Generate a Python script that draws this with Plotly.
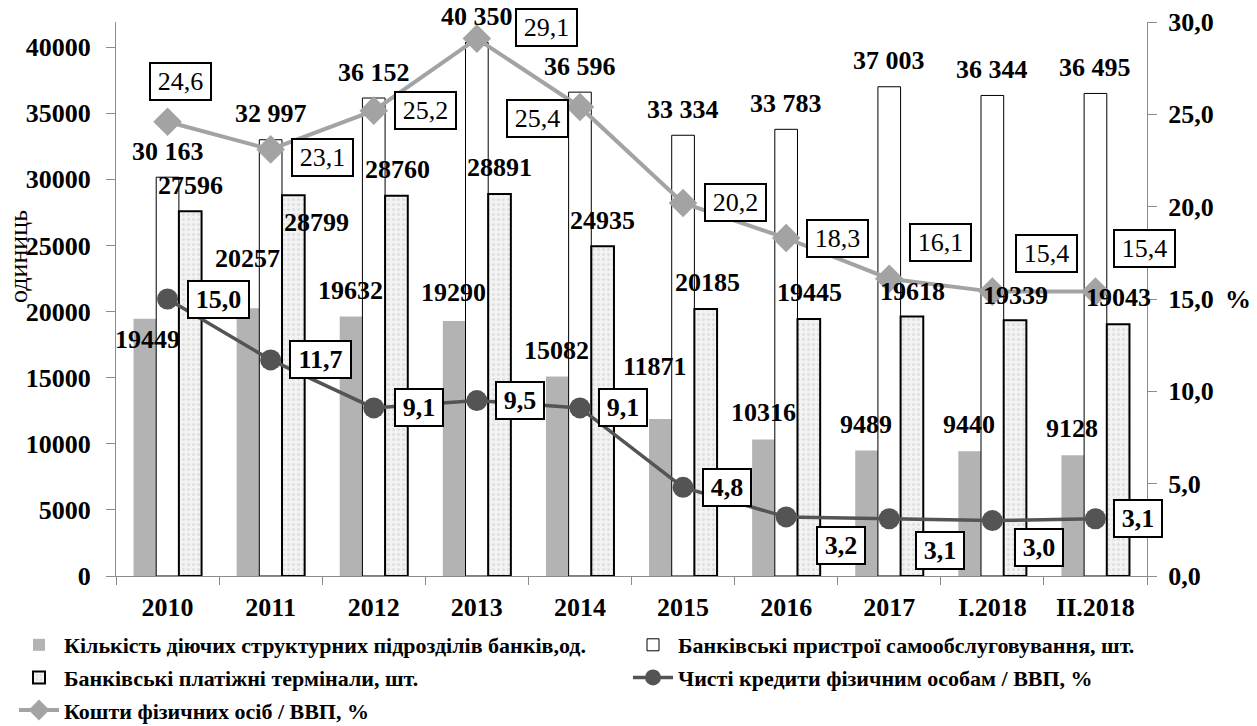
import plotly.graph_objects as go

# ---------------- data ----------------
categories = ["2010", "2011", "2012", "2013", "2014", "2015", "2016", "2017", "I.2018", "II.2018"]
branches = [19449, 20257, 19632, 19290, 15082, 11871, 10316, 9489, 9440, 9128]          # grey bars
self_service = [30163, 32997, 36152, 40350, 36596, 33334, 33783, 37003, 36344, 36495]   # white bars
terminals = [27596, 28799, 28760, 28891, 24935, 20185, 19445, 19618, 19339, 19043]      # dotted bars
loans_gdp = [15.0, 11.7, 9.1, 9.5, 9.1, 4.8, 3.2, 3.1, 3.0, 3.1]                        # dark line
deposits_gdp = [24.6, 23.1, 25.2, 29.1, 25.4, 20.2, 18.3, 16.1, 15.4, 15.4]             # light line

names = [
    "Кількість діючих структурних підрозділів банків,од.",
    "Банківські пристрої самообслуговування, шт.",
    "Банківські платіжні термінали, шт.",
    "Чисті кредити фізичним особам / ВВП, %",
    "Кошти фізичних осіб / ВВП, %",
]

# ---------------- label placement (pixels, style only) ----------------
BAR_DX = 23  # horizontal distance between neighbouring bars in a group
grey_dy = [-21, 50, 26, 28, 26, 53, 27, 26, 27, 27]
grey_dx = [3, 0, 0, 0, 0, -5, 0, 0, 0, 0]
white_dy = [26] * 10
dotted_dy = [26, -27, 26, 27, 26, 27, 26, 25, 25, 27]
dotted_dx = [0, 23, 1, 0, 0, 1, 0, 0, 0, 0]
light_dx = [13, 52, 52, 70, -42, 52, 51, 51, 54, 49]
light_dy = [40, -8, 0, 11, -12, 0, 0, 36, 38, 43]
dark_dx = [51, 50, 45, 43, 43, 44, 55, 51, 47, 43]
dark_dy = [0, 0, 0, 0, 0, 0, -29, -32, -27, 0]

FONT = "Liberation Serif"
LBL = 26

W, H = 1257, 726
ML, MR, MT, MB = 116, 110, 22, 150
PW, PH = W - ML - MR, H - MT - MB


def num(v):
    return f"{v:,}".replace(",", " ")


def dec(v):
    return f"{v:.1f}".replace(".", ",")


fig = go.Figure()
fig.add_trace(go.Bar(x=categories, y=branches, name=names[0], legend="legend", legendgroup="a",
                     marker=dict(color="#b3b3b3", line=dict(width=0))))
fig.add_trace(go.Bar(x=categories, y=self_service, name=names[1], legend="legend2", legendgroup="b",
                     marker=dict(color="white", line=dict(color="black", width=1))))
fig.add_trace(go.Bar(x=categories, y=terminals, name=names[2], legend="legend", legendgroup="c",
                     marker=dict(color="#efefef", line=dict(color="black", width=2),
                                 pattern=dict(shape=".", fgcolor="#cccccc", bgcolor="#f3f3f3",
                                              size=5, solidity=0.3))))
fig.add_trace(go.Scatter(x=categories, y=loans_gdp, name=names[3], yaxis="y2",
                         legend="legend2", legendgroup="d",
                         mode="lines+markers",
                         line=dict(color="#545454", width=3.5),
                         marker=dict(symbol="circle", size=21, color="#545454")))
fig.add_trace(go.Scatter(x=categories, y=deposits_gdp, name=names[4], yaxis="y2",
                         legend="legend", legendgroup="e",
                         mode="lines+markers",
                         line=dict(color="#a3a3a3", width=4),
                         marker=dict(symbol="diamond", size=22, color="#a3a3a3")))

ann = []
bold = dict(family=FONT, size=LBL, color="black", weight="bold")
for i, c in enumerate(categories):
    ann.append(dict(x=i, y=branches[i], xref="x", yref="y", text=f"{branches[i]}",
                    showarrow=False, xshift=-BAR_DX + grey_dx[i], yshift=grey_dy[i], font=bold))
    ann.append(dict(x=i, y=self_service[i], xref="x", yref="y", text=num(self_service[i]),
                    showarrow=False, xshift=0, yshift=white_dy[i], font=bold))
    ann.append(dict(x=i, y=terminals[i], xref="x", yref="y", text=f"{terminals[i]}",
                    showarrow=False, xshift=BAR_DX + dotted_dx[i], yshift=dotted_dy[i], font=bold))
    ann.append(dict(x=i, y=deposits_gdp[i], xref="x", yref="y2", text=dec(deposits_gdp[i]),
                    showarrow=False, xshift=light_dx[i], yshift=light_dy[i],
                    font=dict(family=FONT, size=LBL, color="black"),
                    bordercolor="black", borderwidth=2, borderpad=3, bgcolor="white", width=53))
    t = dec(loans_gdp[i])
    ann.append(dict(x=i, y=loans_gdp[i], xref="x", yref="y2", text=t,
                    showarrow=False, xshift=dark_dx[i], yshift=dark_dy[i], font=bold,
                    bordercolor="black", borderwidth=2, borderpad=3, bgcolor="white",
                    width=53 if len(t) > 3 else 40))

ann.append(dict(x=(18 - ML) / PW, y=(H - MB - 257) / PH, xref="paper", yref="paper",
                xanchor="center", yanchor="middle",
                text="одиниць", textangle=-90, showarrow=False,
                font=dict(family=FONT, size=LBL, color="black")))
ann.append(dict(x=(1238 - ML) / PW, y=15, xref="paper", yref="y2", text="%", showarrow=False,
                xanchor="center", yanchor="middle", font=bold))

axis_font = dict(family=FONT, size=LBL, color="black", weight="bold")
leg_font = dict(family=FONT, size=22, color="black", weight="bold")
LEG_TOP = 624
fig.update_layout(
    width=W, height=H,
    margin=dict(l=ML, r=MR, t=MT, b=MB, autoexpand=False),
    paper_bgcolor="white", plot_bgcolor="white",
    separators=", ",
    barmode="group", bargap=0.34, bargroupgap=0,
    showlegend=True,
    legend=dict(orientation="v", xref="container", yref="container",
                x=14 / W, xanchor="left", y=1 - LEG_TOP / H, yanchor="top",
                font=leg_font, traceorder="grouped", tracegroupgap=1,
                bgcolor="rgba(0,0,0,0)", itemwidth=40),
    legend2=dict(orientation="v", xref="container", yref="container",
                 x=628 / W, xanchor="left", y=1 - LEG_TOP / H, yanchor="top",
                 font=leg_font, traceorder="grouped", tracegroupgap=1,
                 bgcolor="rgba(0,0,0,0)", itemwidth=40),
    xaxis=dict(type="category", range=[-0.5, 9.5], showline=True, linecolor="#8c8c8c",
               linewidth=1, ticks="outside", tickson="boundaries", ticklen=8,
               tickcolor="#8c8c8c", showgrid=False, tickfont=axis_font, zeroline=False,
               ticklabelstandoff=8, automargin=False),
    yaxis=dict(range=[0, 41900], tickvals=[0, 5000, 10000, 15000, 20000, 25000, 30000, 35000, 40000],
               tickformat="d", showline=True, linecolor="#8c8c8c", linewidth=1,
               ticks="outside", ticklen=9, tickcolor="#8c8c8c", showgrid=False,
               zeroline=False, tickfont=axis_font, ticklabelstandoff=10, automargin=False),
    yaxis2=dict(range=[0, 30], dtick=5, tickformat=".1f", overlaying="y", side="right",
                showline=True, linecolor="#8c8c8c", linewidth=1, ticks="outside",
                ticklen=9, tickcolor="#8c8c8c", showgrid=False, zeroline=False,
                tickfont=axis_font, ticklabelstandoff=6, automargin=False),
    annotations=ann,
)

fig.write_html("out.html", config={"displayModeBar": False},
               post_script="document.body.style.margin='0';")
